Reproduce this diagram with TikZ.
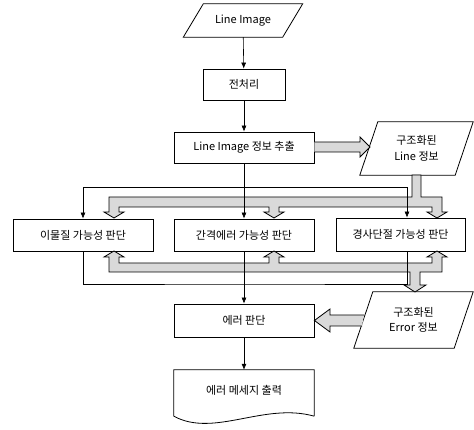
\documentclass[tikz,border=0pt]{standalone}
\usepackage{fontspec}
\setmainfont{Noto Sans CJK KR}
\usetikzlibrary{arrows.meta,calc}
\begin{document}
\begin{tikzpicture}[x=1pt,y=-1pt,
  txt/.style={inner sep=0pt,align=center,font=\fontsize{11}{15.5}\selectfont},
  box/.style={txt,draw,line width=0.8pt,minimum width=140pt,minimum height=32pt},
  conn/.style={line width=0.6pt,-{Latex[length=6pt,width=5pt]}},
  thin/.style={line width=0.6pt},
  outline/.style={line width=0.8pt},
  fat/.style={draw,line width=0.8pt,fill=black!15,line join=miter}
]
\useasboundingbox (0,0) rectangle (474,430);

% nodes
\node[txt,minimum width=119pt,minimum height=33pt] (li) at (243,20.5) {Line Image};
\draw[outline] ($(li.north west)+(20,0)$) -- (li.north east) -- ($(li.south east)-(20,0)$) -- (li.south west) -- cycle;

\node[box,minimum width=82pt,minimum height=31pt] (pre) at (244,84.5) {전처리};
\node[box,minimum height=31pt] (ext) at (244,147.5) {Line Image 정보 추출};

\node[txt,minimum width=113pt,minimum height=53pt] (linfo) at (416.5,148.5) {구조화된\\Line 정보};
\draw[outline] ($(linfo.north west)+(18,0)$) -- (linfo.north east) -- ($(linfo.south east)-(18,0)$) -- (linfo.south west) -- cycle;

\node[box] (b1) at (83,235) {이물질 가능성 판단};
\node[box] (b2) at (244,235) {간격에러 가능성 판단};
\node[box,minimum width=129pt,minimum height=33pt] (b3) at (400.5,234.5) {경사단절 가능성 판단};

\node[box,minimum height=33pt] (err) at (244,320.5) {에러 판단};

\node[txt,minimum width=119pt,minimum height=56pt] (einfo) at (413.5,320) {구조화된\\Error 정보};
\draw[outline] ($(einfo.north west)+(19,0)$) -- (einfo.north east) -- ($(einfo.south east)-(19,0)$) -- (einfo.south west) -- cycle;

\node[txt,minimum width=140pt,minimum height=46pt] (msg) at (244,393) {};
\node[txt] (msgt) at (244,390) {에러 메세지 출력};
\draw[outline] (msg.south east) -- (msg.north east) -- (msg.north west) -- (msg.south west)
  .. controls (214,438) and (264,402) .. (msg.south east);

% shaded wide arrows
\draw[fat] (109,197) -- (412,197) -- (412,175) -- (421,175) -- (421,197) -- (442,197)
  -- (442,212) -- (447,212) -- (437,218) -- (427,212) -- (432,212) -- (432,207)
  -- (279,207) -- (279,212) -- (284,212) -- (274,218) -- (264,212) -- (269,212) -- (269,207)
  -- (119,207) -- (119,212) -- (124,212) -- (114,218) -- (104,212) -- (109,212) -- cycle;

\draw[fat] (109,272) -- (109,257) -- (104,257) -- (114,251) -- (124,257) -- (119,257) -- (119,263)
  -- (269,263) -- (269,257) -- (264,257) -- (274,251) -- (284,257) -- (279,257) -- (279,263)
  -- (432,263) -- (432,257) -- (427,257) -- (437,251) -- (447,257) -- (442,257) -- (442,272)
  -- (420,272) -- (420,285) -- (426,285) -- (415,292) -- (404,285) -- (410,285) -- (410,272) -- cycle;

\draw[fat] (ext.east |- 0,142) -- (360,142) -- (360,137) -- (370,147) -- (360,157) -- (360,152) -- (ext.east |- 0,152);

\draw[fat] (364,315) -- (330,315) -- (330,309) -- (err.east) -- (330,332) -- (330,326) -- (362,326);

% thin connectors
\coordinate (j1) at (244,187);
\coordinate (j2) at (244,284);
\coordinate (b3in) at ([xshift=6.5pt]b3.north);
\coordinate (b3out) at ([xshift=6.5pt]b3.south);

\draw[conn] (li) -- (pre);
\draw[conn] (pre) -- (ext);
\draw[conn] (ext) -- (b2);
\draw[conn] (j1) -| (b1.north);
\draw[conn] (j1) -| (b3in);
\draw[thin] (b1.south) |- (j2) -| (b3out);
\draw[conn] (b2) -- (err);
\draw[conn] (err) -- (msg);
\end{tikzpicture}
\end{document}
